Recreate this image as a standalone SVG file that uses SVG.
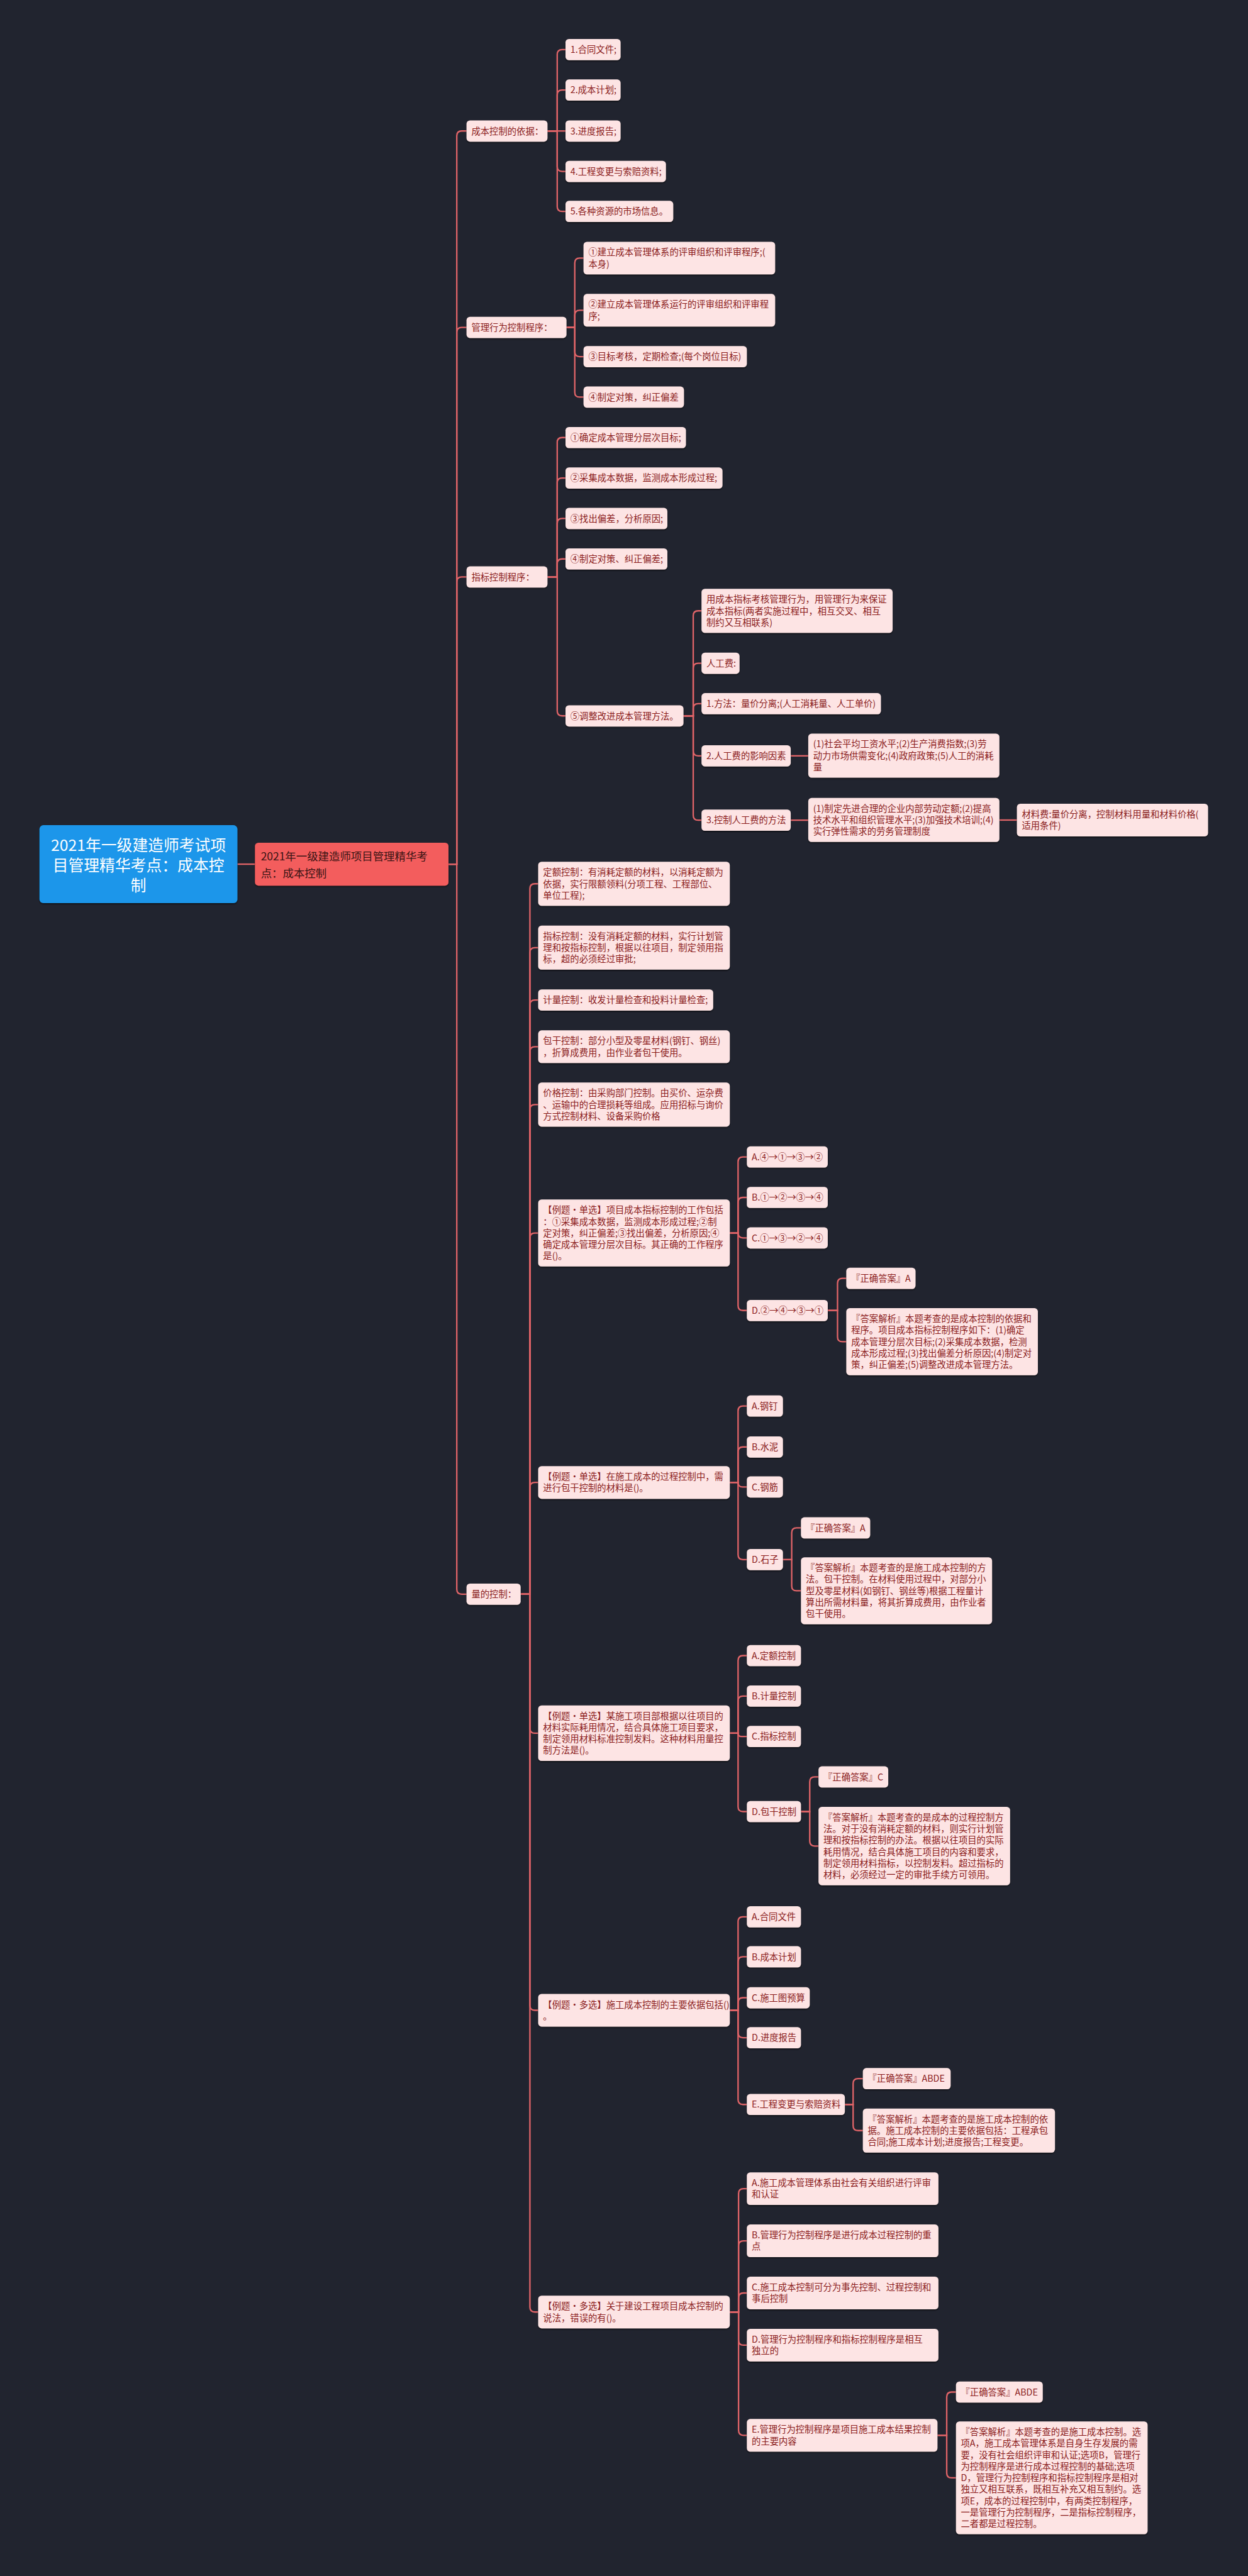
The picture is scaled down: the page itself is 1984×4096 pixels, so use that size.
<svg xmlns="http://www.w3.org/2000/svg" width="1984" height="4096" viewBox="0 0 1984 4096">
<defs>
<filter id="sh" x="-5%" y="-10%" width="110%" height="130%"><feDropShadow dx="0" dy="2" stdDeviation="1.5" flood-color="#000" flood-opacity="0.6"/></filter>
<style>
.b{fill:#fde4e4;filter:url(#sh)}
.t{font-family:"Noto Sans CJK SC","Noto Sans",sans-serif;font-size:18.5px;fill:#8b1c1c}
.c{fill:none;stroke:#e06468;stroke-width:3}
</style>
</defs>
<rect width="1984" height="4096" fill="#21242f"/>
<g transform="scale(0.775)">
<g id="connectors">
<path class="c" d="M487 1773H523"/>
<path class="c" d="M920 1773H937V278.75Q937 268.75 947 268.75H957"/>
<path class="c" d="M920 1773H937V681.75Q937 671.75 947 671.75H957"/>
<path class="c" d="M920 1773H937V1193.75Q937 1183.75 947 1183.75H957"/>
<path class="c" d="M920 1773H937V3260.75Q937 3270.75 947 3270.75H957"/>
<path class="c" d="M1123 268.75H1143V111.75Q1143 101.75 1153 101.75H1160"/>
<path class="c" d="M1123 268.75H1143V194.75Q1143 184.75 1153 184.75H1160"/>
<path class="c" d="M1123 268.75H1160"/>
<path class="c" d="M1123 268.75H1143V341.75Q1143 351.75 1153 351.75H1160"/>
<path class="c" d="M1123 268.75H1143V423.75Q1143 433.75 1153 433.75H1160"/>
<path class="c" d="M1162 671.75H1179V539.5Q1179 529.5 1189 529.5H1197"/>
<path class="c" d="M1162 671.75H1179V646.5Q1179 636.5 1189 636.5H1197"/>
<path class="c" d="M1162 671.75H1179V721.75Q1179 731.75 1189 731.75H1197"/>
<path class="c" d="M1162 671.75H1179V804.75Q1179 814.75 1189 814.75H1197"/>
<path class="c" d="M1123 1183.75H1143V907.75Q1143 897.75 1153 897.75H1160"/>
<path class="c" d="M1123 1183.75H1143V990.75Q1143 980.75 1153 980.75H1160"/>
<path class="c" d="M1123 1183.75H1143V1073.75Q1143 1063.75 1153 1063.75H1160"/>
<path class="c" d="M1123 1183.75H1143V1156.75Q1143 1146.75 1153 1146.75H1160"/>
<path class="c" d="M1123 1183.75H1143V1458.75Q1143 1468.75 1153 1468.75H1160"/>
<path class="c" d="M1402 1468.75H1422V1263.25Q1422 1253.25 1432 1253.25H1439"/>
<path class="c" d="M1402 1468.75H1422V1370.75Q1422 1360.75 1432 1360.75H1439"/>
<path class="c" d="M1402 1468.75H1422V1453.75Q1422 1443.75 1432 1443.75H1439"/>
<path class="c" d="M1402 1468.75H1422V1540.75Q1422 1550.75 1432 1550.75H1439"/>
<path class="c" d="M1402 1468.75H1422V1672.75Q1422 1682.75 1432 1682.75H1439"/>
<path class="c" d="M1622 1550.75H1658"/>
<path class="c" d="M1622 1682.75H1658"/>
<path class="c" d="M2050 1682.5H2086"/>
<path class="c" d="M1068 3270.75H1087V1823.25Q1087 1813.25 1097 1813.25H1104"/>
<path class="c" d="M1068 3270.75H1087V1954.25Q1087 1944.25 1097 1944.25H1104"/>
<path class="c" d="M1068 3270.75H1087V2061.75Q1087 2051.75 1097 2051.75H1104"/>
<path class="c" d="M1068 3270.75H1087V2157.5Q1087 2147.5 1097 2147.5H1104"/>
<path class="c" d="M1068 3270.75H1087V2276.25Q1087 2266.25 1097 2266.25H1104"/>
<path class="c" d="M1068 3270.75H1087V2539.75Q1087 2529.75 1097 2529.75H1104"/>
<path class="c" d="M1068 3270.75H1087V3051.5Q1087 3041.5 1097 3041.5H1104"/>
<path class="c" d="M1068 3270.75H1087V3546Q1087 3556 1097 3556H1104"/>
<path class="c" d="M1068 3270.75H1087V4114.5Q1087 4124.5 1097 4124.5H1104"/>
<path class="c" d="M1068 3270.75H1087V4733.5Q1087 4743.5 1097 4743.5H1104"/>
<path class="c" d="M1497 2529.75H1514V2383.75Q1514 2373.75 1524 2373.75H1532"/>
<path class="c" d="M1497 2529.75H1514V2466.75Q1514 2456.75 1524 2456.75H1532"/>
<path class="c" d="M1497 2529.75H1514V2529.75Q1514 2539.75 1524 2539.75H1532"/>
<path class="c" d="M1497 2529.75H1514V2678.75Q1514 2688.75 1524 2688.75H1532"/>
<path class="c" d="M1698 2688.75H1718V2632.75Q1718 2622.75 1728 2622.75H1736"/>
<path class="c" d="M1698 2688.75H1718V2742.75Q1718 2752.75 1728 2752.75H1736"/>
<path class="c" d="M1497 3041.5H1514V2894.75Q1514 2884.75 1524 2884.75H1532"/>
<path class="c" d="M1497 3041.5H1514V2978.75Q1514 2968.75 1524 2968.75H1532"/>
<path class="c" d="M1497 3041.5H1514Q1514 3050.75 1523.25 3050.75H1532"/>
<path class="c" d="M1497 3041.5H1514V3189.75Q1514 3199.75 1524 3199.75H1532"/>
<path class="c" d="M1605 3199.75H1624V3144.75Q1624 3134.75 1634 3134.75H1643"/>
<path class="c" d="M1605 3199.75H1624V3253.75Q1624 3263.75 1634 3263.75H1643"/>
<path class="c" d="M1497 3556H1514V3406.75Q1514 3396.75 1524 3396.75H1532"/>
<path class="c" d="M1497 3556H1514V3489.75Q1514 3479.75 1524 3479.75H1532"/>
<path class="c" d="M1497 3556H1514Q1514 3562.75 1520.75 3562.75H1532"/>
<path class="c" d="M1497 3556H1514V3706.75Q1514 3716.75 1524 3716.75H1532"/>
<path class="c" d="M1643 3716.75H1661V3655.75Q1661 3645.75 1671 3645.75H1679"/>
<path class="c" d="M1643 3716.75H1661V3777.5Q1661 3787.5 1671 3787.5H1679"/>
<path class="c" d="M1497 4124.5H1514V3942.75Q1514 3932.75 1524 3932.75H1532"/>
<path class="c" d="M1497 4124.5H1514V4024.75Q1514 4014.75 1524 4014.75H1532"/>
<path class="c" d="M1497 4124.5H1514V4108.75Q1514 4098.75 1524 4098.75H1532"/>
<path class="c" d="M1497 4124.5H1514V4170.75Q1514 4180.75 1524 4180.75H1532"/>
<path class="c" d="M1497 4124.5H1514V4307.75Q1514 4317.75 1524 4317.75H1532"/>
<path class="c" d="M1733 4317.75H1750V4274.75Q1750 4264.75 1760 4264.75H1770"/>
<path class="c" d="M1733 4317.75H1750V4361.25Q1750 4371.25 1760 4371.25H1770"/>
<path class="c" d="M1497 4743.5H1515V4500.5Q1515 4490.5 1525 4490.5H1532"/>
<path class="c" d="M1497 4743.5H1515V4607.5Q1515 4597.5 1525 4597.5H1532"/>
<path class="c" d="M1497 4743.5H1515V4714.5Q1515 4704.5 1525 4704.5H1532"/>
<path class="c" d="M1497 4743.5H1515V4801.5Q1515 4811.5 1525 4811.5H1532"/>
<path class="c" d="M1497 4743.5H1515V4986.5Q1515 4996.5 1525 4996.5H1532"/>
<path class="c" d="M1923 4996.5H1942V4917.75Q1942 4907.75 1952 4907.75H1961"/>
<path class="c" d="M1923 4996.5H1942V5073.75Q1942 5083.75 1952 5083.75H1961"/>
</g>

<g id="root"><rect x="81" y="1693" width="406" height="160" rx="8" fill="#1a96ea" style="filter:url(#sh)"/>
<text font-family="Noto Sans CJK SC, Noto Sans, sans-serif" font-size="32" fill="#ffffff" text-anchor="middle"><tspan x="284" y="1746">2021年一级建造师考试项</tspan><tspan x="284" y="1787">目管理精华考点：成本控</tspan><tspan x="284" y="1828">制</tspan></text></g>

<g id="main"><rect x="523" y="1729" width="397" height="88" rx="7" fill="#f35d5d" style="filter:url(#sh)"/>
<text font-family="Noto Sans CJK SC, Noto Sans, sans-serif" font-size="22.5" fill="#3a1414"><tspan x="535" y="1765">2021年一级建造师项目管理精华考</tspan><tspan x="535" y="1800">点：成本控制</tspan></text></g>

<g id="n3a"><rect class="b" x="957" y="247" width="166" height="43.5" rx="7"/><text class="t" x="967" y="275.5">成本控制的依据：</text></g>
<g id="n3a1"><rect class="b" x="1160" y="80" width="113" height="43.5" rx="7"/><text class="t" x="1170" y="108.5">1.合同文件;</text></g>
<g id="n3a2"><rect class="b" x="1160" y="163" width="113" height="43.5" rx="7"/><text class="t" x="1170" y="191.5">2.成本计划;</text></g>
<g id="n3a3"><rect class="b" x="1160" y="247" width="113" height="43.5" rx="7"/><text class="t" x="1170" y="275.5">3.进度报告;</text></g>
<g id="n3a4"><rect class="b" x="1160" y="330" width="206" height="43.5" rx="7"/><text class="t" x="1170" y="358.5">4.工程变更与索赔资料;</text></g>
<g id="n3a5"><rect class="b" x="1160" y="412" width="221" height="43.5" rx="7"/><text class="t" x="1170" y="440.5">5.各种资源的市场信息。</text></g>

<g id="n3b"><rect class="b" x="957" y="650" width="205" height="43.5" rx="7"/><text class="t" x="967" y="678.5">管理行为控制程序：</text></g>
<g id="n3b1"><rect class="b" x="1197" y="496" width="393" height="67" rx="7"/><text class="t" x="1207" y="524.5">①建立成本管理体系的评审组织和评审程序;(<tspan x="1207" dy="23.5">本身)</tspan></text></g>
<g id="n3b2"><rect class="b" x="1197" y="603" width="393" height="67" rx="7"/><text class="t" x="1207" y="631.5">②建立成本管理体系运行的评审组织和评审程<tspan x="1207" dy="23.5">序;</tspan></text></g>
<g id="n3b3"><rect class="b" x="1197" y="710" width="335" height="43.5" rx="7"/><text class="t" x="1207" y="738.5">③目标考核，定期检查;(每个岗位目标)</text></g>
<g id="n3b4"><rect class="b" x="1197" y="793" width="206" height="43.5" rx="7"/><text class="t" x="1207" y="821.5">④制定对策，纠正偏差</text></g>

<g id="n3c"><rect class="b" x="957" y="1162" width="166" height="43.5" rx="7"/><text class="t" x="967" y="1190.5">指标控制程序：</text></g>
<g id="n3c1"><rect class="b" x="1160" y="876" width="247" height="43.5" rx="7"/><text class="t" x="1170" y="904.5">①确定成本管理分层次目标;</text></g>
<g id="n3c2"><rect class="b" x="1160" y="959" width="322" height="43.5" rx="7"/><text class="t" x="1170" y="987.5">②采集成本数据，监测成本形成过程;</text></g>
<g id="n3c3"><rect class="b" x="1160" y="1042" width="209" height="43.5" rx="7"/><text class="t" x="1170" y="1070.5">③找出偏差，分析原因;</text></g>
<g id="n3c4"><rect class="b" x="1160" y="1125" width="209" height="43.5" rx="7"/><text class="t" x="1170" y="1153.5">④制定对策、纠正偏差;</text></g>
<g id="n3c5"><rect class="b" x="1160" y="1447" width="242" height="43.5" rx="7"/><text class="t" x="1170" y="1475.5">⑤调整改进成本管理方法。</text></g>
<g id="n5a"><rect class="b" x="1439" y="1208" width="392" height="90.5" rx="7"/><text class="t" x="1449" y="1236.5">用成本指标考核管理行为，用管理行为来保证<tspan x="1449" dy="23.5">成本指标(两者实施过程中，相互交叉、相互</tspan><tspan x="1449" dy="23.5">制约又互相联系)</tspan></text></g>
<g id="n5b"><rect class="b" x="1439" y="1339" width="78" height="43.5" rx="7"/><text class="t" x="1449" y="1367.5">人工费:</text></g>
<g id="n5c"><rect class="b" x="1439" y="1422" width="368" height="43.5" rx="7"/><text class="t" x="1449" y="1450.5">1.方法：量价分离;(人工消耗量、人工单价)</text></g>
<g id="n5d"><rect class="b" x="1439" y="1529" width="183" height="43.5" rx="7"/><text class="t" x="1449" y="1557.5">2.人工费的影响因素</text></g>
<g id="n5e"><rect class="b" x="1439" y="1661" width="183" height="43.5" rx="7"/><text class="t" x="1449" y="1689.5">3.控制人工费的方法</text></g>
<g id="n6a"><rect class="b" x="1658" y="1505" width="392" height="90.5" rx="7"/><text class="t" x="1668" y="1533.5">(1)社会平均工资水平;(2)生产消费指数;(3)劳<tspan x="1668" dy="23.5">动力市场供需变化;(4)政府政策;(5)人工的消耗</tspan><tspan x="1668" dy="23.5">量</tspan></text></g>
<g id="n6b"><rect class="b" x="1658" y="1637" width="392" height="90.5" rx="7"/><text class="t" x="1668" y="1665.5">(1)制定先进合理的企业内部劳动定额;(2)提高<tspan x="1668" dy="23.5">技术水平和组织管理水平;(3)加强技术培训;(4)</tspan><tspan x="1668" dy="23.5">实行弹性需求的劳务管理制度</tspan></text></g>
<g id="n7"><rect class="b" x="2086" y="1649" width="392" height="67" rx="7"/><text class="t" x="2096" y="1677.5">材料费:量价分离，控制材料用量和材料价格(<tspan x="2096" dy="23.5">适用条件)</tspan></text></g>

<g id="n3d"><rect class="b" x="957" y="3249" width="111" height="43.5" rx="7"/><text class="t" x="967" y="3277.5">量的控制：</text></g>
<g id="m1"><rect class="b" x="1104" y="1768" width="393" height="90.5" rx="7"/><text class="t" x="1114" y="1796.5">定额控制：有消耗定额的材料，以消耗定额为<tspan x="1114" dy="23.5">依据，实行限额领料(分项工程、工程部位、</tspan><tspan x="1114" dy="23.5">单位工程);</tspan></text></g>
<g id="m2"><rect class="b" x="1104" y="1899" width="393" height="90.5" rx="7"/><text class="t" x="1114" y="1927.5">指标控制：没有消耗定额的材料，实行计划管<tspan x="1114" dy="23.5">理和按指标控制，根据以往项目，制定领用指</tspan><tspan x="1114" dy="23.5">标，超的必须经过审批;</tspan></text></g>
<g id="m3"><rect class="b" x="1104" y="2030" width="359" height="43.5" rx="7"/><text class="t" x="1114" y="2058.5">计量控制：收发计量检查和投料计量检查;</text></g>
<g id="m4"><rect class="b" x="1104" y="2114" width="393" height="67" rx="7"/><text class="t" x="1114" y="2142.5">包干控制：部分小型及零星材料(钢钉、钢丝)<tspan x="1114" dy="23.5">，折算成费用，由作业者包干使用。</tspan></text></g>
<g id="m5"><rect class="b" x="1104" y="2221" width="393" height="90.5" rx="7"/><text class="t" x="1114" y="2249.5">价格控制：由采购部门控制。由买价、运杂费<tspan x="1114" dy="23.5">、运输中的合理损耗等组成。应用招标与询价</tspan><tspan x="1114" dy="23.5">方式控制材料、设备采购价格</tspan></text></g>

<g id="q1"><rect class="b" x="1104" y="2461" width="393" height="137.5" rx="7"/><text class="t" x="1114" y="2489.5">【例题·单选】项目成本指标控制的工作包括<tspan x="1114" dy="23.5">：①采集成本数据，监测成本形成过程;②制</tspan><tspan x="1114" dy="23.5">定对策，纠正偏差;③找出偏差，分析原因;④</tspan><tspan x="1114" dy="23.5">确定成本管理分层次目标。其正确的工作程序</tspan><tspan x="1114" dy="23.5">是()。</tspan></text></g>
<g id="q1a"><rect class="b" x="1532" y="2352" width="166" height="43.5" rx="7"/><text class="t" x="1542" y="2380.5">A.④→①→③→②</text></g>
<g id="q1b"><rect class="b" x="1532" y="2435" width="166" height="43.5" rx="7"/><text class="t" x="1542" y="2463.5">B.①→②→③→④</text></g>
<g id="q1c"><rect class="b" x="1532" y="2518" width="166" height="43.5" rx="7"/><text class="t" x="1542" y="2546.5">C.①→③→②→④</text></g>
<g id="q1d"><rect class="b" x="1532" y="2667" width="166" height="43.5" rx="7"/><text class="t" x="1542" y="2695.5">D.②→④→③→①</text></g>
<g id="q1d1"><rect class="b" x="1736" y="2601" width="142" height="43.5" rx="7"/><text class="t" x="1746" y="2629.5">『正确答案』A</text></g>
<g id="q1d2"><rect class="b" x="1736" y="2684" width="393" height="137.5" rx="7"/><text class="t" x="1746" y="2712.5">『答案解析』本题考查的是成本控制的依据和<tspan x="1746" dy="23.5">程序。项目成本指标控制程序如下：(1)确定</tspan><tspan x="1746" dy="23.5">成本管理分层次目标;(2)采集成本数据，检测</tspan><tspan x="1746" dy="23.5">成本形成过程;(3)找出偏差分析原因;(4)制定对</tspan><tspan x="1746" dy="23.5">策，纠正偏差;(5)调整改进成本管理方法。</tspan></text></g>

<g id="q2"><rect class="b" x="1104" y="3008" width="393" height="67" rx="7"/><text class="t" x="1114" y="3036.5">【例题·单选】在施工成本的过程控制中，需<tspan x="1114" dy="23.5">进行包干控制的材料是()。</tspan></text></g>
<g id="q2a"><rect class="b" x="1532" y="2863" width="74" height="43.5" rx="7"/><text class="t" x="1542" y="2891.5">A.钢钉</text></g>
<g id="q2b"><rect class="b" x="1532" y="2947" width="74" height="43.5" rx="7"/><text class="t" x="1542" y="2975.5">B.水泥</text></g>
<g id="q2c"><rect class="b" x="1532" y="3029" width="74" height="43.5" rx="7"/><text class="t" x="1542" y="3057.5">C.钢筋</text></g>
<g id="q2d"><rect class="b" x="1532" y="3178" width="74" height="43.5" rx="7"/><text class="t" x="1542" y="3206.5">D.石子</text></g>
<g id="q2d1"><rect class="b" x="1643" y="3113" width="142" height="43.5" rx="7"/><text class="t" x="1653" y="3141.5">『正确答案』A</text></g>
<g id="q2d2"><rect class="b" x="1643" y="3195" width="392" height="137.5" rx="7"/><text class="t" x="1653" y="3223.5">『答案解析』本题考查的是施工成本控制的方<tspan x="1653" dy="23.5">法。包干控制。在材料使用过程中，对部分小</tspan><tspan x="1653" dy="23.5">型及零星材料(如钢钉、钢丝等)根据工程量计</tspan><tspan x="1653" dy="23.5">算出所需材料量，将其折算成费用，由作业者</tspan><tspan x="1653" dy="23.5">包干使用。</tspan></text></g>

<g id="q3"><rect class="b" x="1104" y="3499" width="393" height="114" rx="7"/><text class="t" x="1114" y="3527.5">【例题·单选】某施工项目部根据以往项目的<tspan x="1114" dy="23.5">材料实际耗用情况，结合具体施工项目要求，</tspan><tspan x="1114" dy="23.5">制定领用材料标准控制发料。这种材料用量控</tspan><tspan x="1114" dy="23.5">制方法是()。</tspan></text></g>
<g id="q3a"><rect class="b" x="1532" y="3375" width="111" height="43.5" rx="7"/><text class="t" x="1542" y="3403.5">A.定额控制</text></g>
<g id="q3b"><rect class="b" x="1532" y="3458" width="111" height="43.5" rx="7"/><text class="t" x="1542" y="3486.5">B.计量控制</text></g>
<g id="q3c"><rect class="b" x="1532" y="3541" width="111" height="43.5" rx="7"/><text class="t" x="1542" y="3569.5">C.指标控制</text></g>
<g id="q3d"><rect class="b" x="1532" y="3695" width="111" height="43.5" rx="7"/><text class="t" x="1542" y="3723.5">D.包干控制</text></g>
<g id="q3d1"><rect class="b" x="1679" y="3624" width="143" height="43.5" rx="7"/><text class="t" x="1689" y="3652.5">『正确答案』C</text></g>
<g id="q3d2"><rect class="b" x="1679" y="3707" width="393" height="161" rx="7"/><text class="t" x="1689" y="3735.5">『答案解析』本题考查的是成本的过程控制方<tspan x="1689" dy="23.5">法。对于没有消耗定额的材料，则实行计划管</tspan><tspan x="1689" dy="23.5">理和按指标控制的办法。根据以往项目的实际</tspan><tspan x="1689" dy="23.5">耗用情况，结合具体施工项目的内容和要求，</tspan><tspan x="1689" dy="23.5">制定领用材料指标，以控制发料。超过指标的</tspan><tspan x="1689" dy="23.5">材料，必须经过一定的审批手续方可领用。</tspan></text></g>

<g id="q4"><rect class="b" x="1104" y="4091" width="393" height="67" rx="7"/><text class="t" x="1114" y="4119.5">【例题·多选】施工成本控制的主要依据包括()<tspan x="1114" dy="23.5">。</tspan></text></g>
<g id="q4a"><rect class="b" x="1532" y="3911" width="111" height="43.5" rx="7"/><text class="t" x="1542" y="3939.5">A.合同文件</text></g>
<g id="q4b"><rect class="b" x="1532" y="3993" width="111" height="43.5" rx="7"/><text class="t" x="1542" y="4021.5">B.成本计划</text></g>
<g id="q4c"><rect class="b" x="1532" y="4077" width="129" height="43.5" rx="7"/><text class="t" x="1542" y="4105.5">C.施工图预算</text></g>
<g id="q4d"><rect class="b" x="1532" y="4159" width="111" height="43.5" rx="7"/><text class="t" x="1542" y="4187.5">D.进度报告</text></g>
<g id="q4e"><rect class="b" x="1532" y="4296" width="201" height="43.5" rx="7"/><text class="t" x="1542" y="4324.5">E.工程变更与索赔资料</text></g>
<g id="q4e1"><rect class="b" x="1770" y="4243" width="180" height="43.5" rx="7"/><text class="t" x="1780" y="4271.5">『正确答案』ABDE</text></g>
<g id="q4e2"><rect class="b" x="1770" y="4326" width="394" height="90.5" rx="7"/><text class="t" x="1780" y="4354.5">『答案解析』本题考查的是施工成本控制的依<tspan x="1780" dy="23.5">据。施工成本控制的主要依据包括：工程承包</tspan><tspan x="1780" dy="23.5">合同;施工成本计划;进度报告;工程变更。</tspan></text></g>

<g id="q5"><rect class="b" x="1104" y="4710" width="393" height="67" rx="7"/><text class="t" x="1114" y="4738.5">【例题·多选】关于建设工程项目成本控制的<tspan x="1114" dy="23.5">说法，错误的有()。</tspan></text></g>
<g id="q5a"><rect class="b" x="1532" y="4457" width="393" height="67" rx="7"/><text class="t" x="1542" y="4485.5">A.施工成本管理体系由社会有关组织进行评审<tspan x="1542" dy="23.5">和认证</tspan></text></g>
<g id="q5b"><rect class="b" x="1532" y="4564" width="393" height="67" rx="7"/><text class="t" x="1542" y="4592.5">B.管理行为控制程序是进行成本过程控制的重<tspan x="1542" dy="23.5">点</tspan></text></g>
<g id="q5c"><rect class="b" x="1532" y="4671" width="393" height="67" rx="7"/><text class="t" x="1542" y="4699.5">C.施工成本控制可分为事先控制、过程控制和<tspan x="1542" dy="23.5">事后控制</tspan></text></g>
<g id="q5d"><rect class="b" x="1532" y="4778" width="393" height="67" rx="7"/><text class="t" x="1542" y="4806.5">D.管理行为控制程序和指标控制程序是相互<tspan x="1542" dy="23.5">独立的</tspan></text></g>
<g id="q5e"><rect class="b" x="1532" y="4963" width="391" height="67" rx="7"/><text class="t" x="1542" y="4991.5">E.管理行为控制程序是项目施工成本结果控制<tspan x="1542" dy="23.5">的主要内容</tspan></text></g>
<g id="q5e1"><rect class="b" x="1961" y="4886" width="178" height="43.5" rx="7"/><text class="t" x="1971" y="4914.5">『正确答案』ABDE</text></g>
<g id="q5e2"><rect class="b" x="1961" y="4968" width="393" height="231.5" rx="7"/><text class="t" x="1971" y="4996.5">『答案解析』本题考查的是施工成本控制。选<tspan x="1971" dy="23.5">项A，施工成本管理体系是自身生存发展的需</tspan><tspan x="1971" dy="23.5">要，没有社会组织评审和认证;选项B，管理行</tspan><tspan x="1971" dy="23.5">为控制程序是进行成本过程控制的基础;选项</tspan><tspan x="1971" dy="23.5">D，管理行为控制程序和指标控制程序是相对</tspan><tspan x="1971" dy="23.5">独立又相互联系，既相互补充又相互制约。选</tspan><tspan x="1971" dy="23.5">项E，成本的过程控制中，有两类控制程序，</tspan><tspan x="1971" dy="23.5">一是管理行为控制程序，二是指标控制程序，</tspan><tspan x="1971" dy="23.5">二者都是过程控制。</tspan></text></g>
</g>
</svg>
